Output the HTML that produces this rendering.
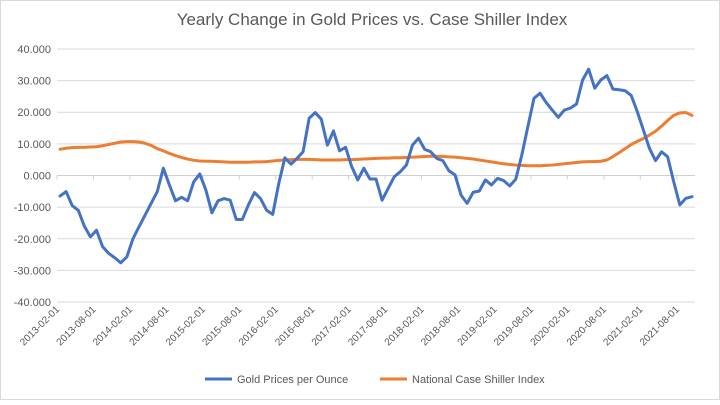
<!DOCTYPE html>
<html><head><meta charset="utf-8"><style>
body{margin:0;background:#fff;}
svg text{font-family:"Liberation Sans",sans-serif;fill:#595959;}
</style></head><body>
<svg id="chart" width="720" height="400" xmlns="http://www.w3.org/2000/svg">
<rect x="0.5" y="0.5" width="719" height="399" fill="#fff" stroke="#d9d9d9"/>
<text x="372" y="25" font-size="17" text-anchor="middle">Yearly Change in Gold Prices vs. Case Shiller Index</text>
<g id="grid"></g><g id="yticks"></g><g id="xticks"></g><g id="series"></g>
<g>
<line x1="205" y1="379" x2="232" y2="379" stroke="#4472c4" stroke-width="3"/>
<text x="237" y="383" font-size="11">Gold Prices per Ounce</text>
<line x1="380" y1="379" x2="407" y2="379" stroke="#ed7d31" stroke-width="3"/>
<text x="412" y="383" font-size="11">National Case Shiller Index</text>
</g>
</svg>
<script>
const yTicks=[40,30,20,10,0,-10,-20,-30,-40];
const xLabels=["2013-02-01","2013-08-01","2014-02-01","2014-08-01","2015-02-01","2015-08-01","2016-02-01","2016-08-01","2017-02-01","2017-08-01","2018-02-01","2018-08-01","2019-02-01","2019-08-01","2020-02-01","2020-08-01","2021-02-01","2021-08-01"];
const gold=[-6.5,-5.1,-9.5,-11,-16,-19.4,-17.3,-22.5,-24.6,-26,-27.6,-25.7,-20,-16.2,-12.5,-8.8,-5.1,2.3,-3,-8,-6.9,-8,-2,0.5,-4.6,-11.8,-8,-7.3,-7.8,-13.9,-13.9,-9.3,-5.4,-7.3,-11,-12.3,-2.5,5.6,3.6,5.4,7.5,18.1,19.9,17.8,9.6,14.1,7.8,8.9,2.8,-1.4,2.3,-1.1,-1.1,-7.8,-4.1,-0.4,1.2,3.3,9.6,11.8,8.3,7.5,5.4,4.7,1.5,0.2,-6.2,-8.8,-5.3,-4.9,-1.4,-3,-0.9,-1.6,-3.3,-1.2,6.5,15.5,24.4,26,23.1,20.7,18.4,20.7,21.3,22.6,30.2,33.6,27.6,30.2,31.6,27.3,27.1,26.8,25.3,20.2,14.4,8.6,4.7,7.5,5.9,-2,-9.3,-7.2,-6.7];
const caseShiller=[8.3,8.6,8.8,8.9,8.9,9.0,9.1,9.4,9.8,10.2,10.6,10.7,10.7,10.6,10.2,9.5,8.5,7.8,7.0,6.3,5.7,5.2,4.8,4.6,4.5,4.5,4.4,4.3,4.2,4.2,4.2,4.2,4.3,4.3,4.4,4.6,4.8,4.9,5.0,5.1,5.1,5.1,5.0,4.9,4.9,4.9,4.9,5.0,5.0,5.1,5.2,5.3,5.4,5.5,5.5,5.6,5.6,5.7,5.8,5.9,6.0,6.1,6.1,6.0,5.9,5.8,5.6,5.4,5.2,4.9,4.6,4.3,4.0,3.7,3.5,3.3,3.2,3.1,3.1,3.1,3.2,3.3,3.5,3.7,3.9,4.1,4.3,4.4,4.4,4.5,4.9,6.0,7.2,8.5,9.8,10.8,11.7,12.8,14.0,15.6,17.4,19.0,19.8,19.9,19.0];
const NS="http://www.w3.org/2000/svg";
const X0=57,X1=695,Y0=175.5,PER=3.163;
const step=(X1-X0)/gold.length;
function y(v){return Y0-v*PER;}
function x(i){return X0+step*(i+0.5);}
function mk(tag,parent,attrs){const e=document.createElementNS(NS,tag);for(const k in attrs)e.setAttribute(k,attrs[k]);parent.appendChild(e);return e;}
const grid=document.getElementById('grid'),yt=document.getElementById('yticks'),xt=document.getElementById('xticks'),ser=document.getElementById('series');
yTicks.forEach(v=>{
 const l=mk('line',grid,{x1:X0,x2:X1,y1:y(v),y2:y(v),stroke:v===0?'#d0d0d0':'#d9d9d9','stroke-width':1});
 
 
 const t=mk('text',yt,{x:51,y:y(v)+4,'font-size':11,'text-anchor':'end'});
 t.textContent=v.toFixed(3);
 
 
});
xLabels.forEach((s,k)=>{
 const px=X0+step*6*k;
 const tk=mk('line',xt,{x1:px,x2:px,y1:Y0,y2:Y0+4,stroke:'#d0d0d0'});
 
 
 const t=mk('text',xt,{x:px+3,y:310,'font-size':10,'text-anchor':'end',transform:`rotate(-45 ${px+3} 310)`});
 t.textContent=s;
 
 
});
function line(arr,color,name){
 const p=mk('polyline',ser,{points:arr.map((v,i)=>x(i)+','+y(v)).join(' '),fill:'none',stroke:color,'stroke-width':3,'stroke-linejoin':'round','stroke-linecap':'round'});
 
 
}
line(caseShiller,'#ed7d31','case-shiller-line');
line(gold,'#4472c4','gold-line');
</script>
</body></html>
